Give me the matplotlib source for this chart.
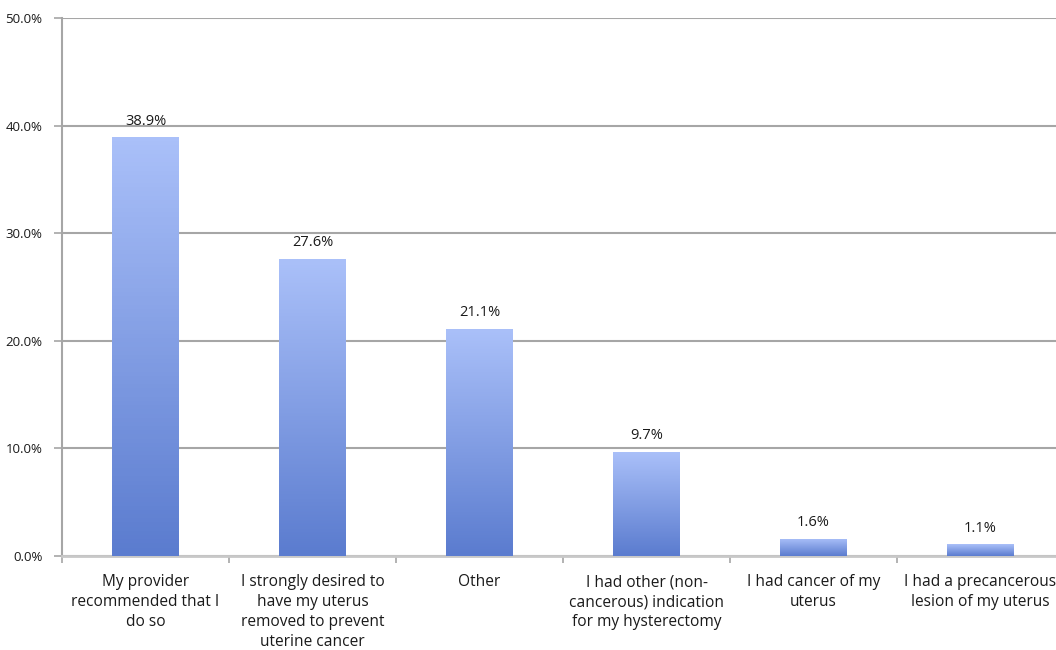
import numpy as np
import matplotlib.pyplot as plt
from matplotlib.colors import LinearSegmentedColormap

categories = [
    "My provider\nrecommended that I\ndo so",
    "I strongly desired to\nhave my uterus\nremoved to prevent\nuterine cancer",
    "Other",
    "I had other (non-\ncancerous) indication\nfor my hysterectomy",
    "I had cancer of my\nuterus",
    "I had a precancerous\nlesion of my uterus",
]
values = [38.9, 27.6, 21.1, 9.7, 1.6, 1.1]
yticks = [0, 10, 20, 30, 40, 50]

plt.rcParams['font.family'] = ['Open Sans', 'DejaVu Sans']

fig = plt.figure(figsize=(10.56, 6.5), dpi=100)
# plot area runs slightly past the right edge, as in the original
ax = fig.add_axes([62/1056, 1 - 556/650, 1002/1056, 538/650])

x = np.arange(len(values))
width = 0.4
grad = LinearSegmentedColormap.from_list("g", ["#5b7ccf", "#aac0f9"])
bars = ax.bar(x, values, width=width, color="none", edgecolor="none", zorder=3)
for b in bars:
    x0, y0, w, h = b.get_x(), b.get_y(), b.get_width(), b.get_height()
    img = np.linspace(0, 1, 100).reshape(-1, 1)
    im = ax.imshow(img, cmap=grad, origin="lower", aspect="auto",
                   extent=[x0, x0 + w, y0, y0 + h], zorder=3)
    im.set_clip_path(b)
    ax.text(x0 + w/2, h + 0.8, f"{h:.1f}%", ha="center", va="bottom",
            fontsize=10.5, color="#1a1a1a", zorder=4)

ax.set_xlim(-0.5, len(values) - 0.5)
ax.set_ylim(0, 50)
ax.set_yticks(yticks)
ax.set_yticklabels([f"{t:.1f}%" for t in yticks], fontsize=9.5, color="#1a1a1a")
ax.yaxis.grid(True, color="#a6a6a6", linewidth=1.5, zorder=0)
ax.set_axisbelow(True)

ax.set_xticks(np.arange(len(values) + 1) - 0.5)
ax.set_xticklabels([])
ax.set_xticks(x, minor=True)
ax.set_xticklabels(categories, minor=True, fontsize=11.2, color="#1a1a1a",
                   linespacing=1.33, va="top")
ax.tick_params(axis="x", which="minor", length=0, pad=13)
ax.tick_params(axis="x", which="major", length=5, color="#a6a6a6", width=1.2)
ax.tick_params(axis="y", length=6, color="#a6a6a6", width=1.2, pad=8)

for s in ["top", "right"]:
    ax.spines[s].set_visible(False)
ax.spines["left"].set_color("#a6a6a6")
ax.spines["left"].set_linewidth(1.5)
ax.spines["bottom"].set_color("#c8c8c8")
ax.spines["bottom"].set_linewidth(2)

fig.savefig("out.png", dpi=100)
